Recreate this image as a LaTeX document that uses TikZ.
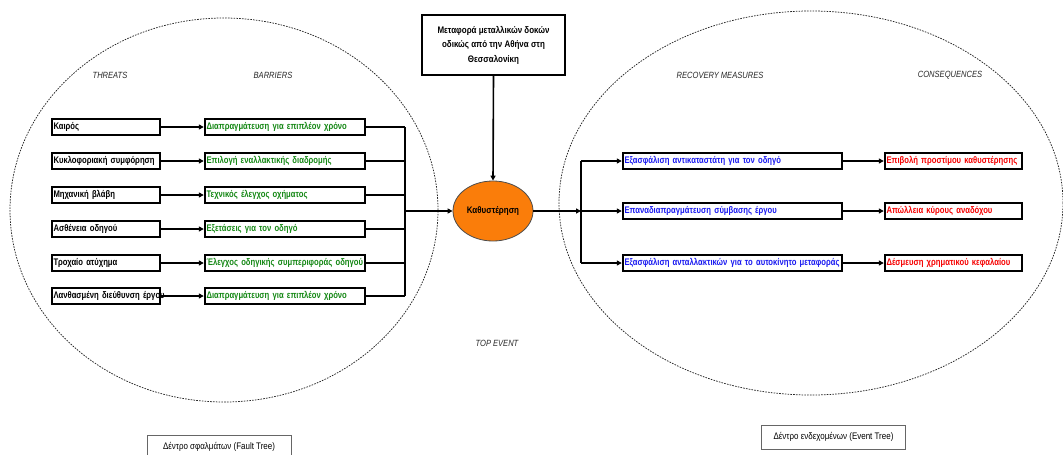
\documentclass[tikz,border=0pt]{standalone}
\usepackage{fontspec}
\setmainfont{Liberation Sans}[FakeStretch=0.84]
\newfontfamily\boxfont{Liberation Sans}[FakeStretch=0.80, WordSpace=0.85]
\usetikzlibrary{arrows.meta,shapes.geometric}
\definecolor{barriergreen}{RGB}{20,135,20}
\definecolor{recoveryblue}{RGB}{25,25,240}
\definecolor{consred}{RGB}{245,0,0}
\definecolor{eventorange}{RGB}{250,125,10}

\begin{document}
\begin{tikzpicture}[x=1pt,y=-1pt,
  itembox/.style={draw, line width=2.4pt, minimum height=16pt, inner xsep=1.5pt, inner ysep=0pt,
    align=left, font=\boxfont\bfseries\fontsize{9.6}{10}\selectfont},
  threatbox/.style={itembox, text width=105pt},
  barrierbox/.style={itembox, text width=157pt, text=barriergreen},
  recoverybox/.style={itembox, text width=216pt, text=recoveryblue},
  consbox/.style={itembox, text width=134pt, text=consred},
  link/.style={line width=1.6pt},
  linkarrow/.style={line width=1.6pt, -{Triangle[length=5pt,width=5pt]}},
  region/.style={dash pattern=on 1.6pt off 1.2pt, line width=0.75pt, black!85},
  heading/.style={font=\itshape\fontsize{9}{10}\selectfont, text=black!85},
  treelabel/.style={draw=black!60, line width=0.6pt, minimum width=144pt, minimum height=24pt,
    inner sep=0pt, font=\fontsize{9.5}{11}\selectfont}
]
\useasboundingbox (0,0) rectangle (1063,455);

% fault tree and event tree regions
\draw[region] (224,210) ellipse [x radius=214pt, y radius=192pt];
\draw[region] (811,203) ellipse [x radius=252pt, y radius=192pt];

% column headings
\node[heading] (hThreats) at (110,75) {THREATS};
\node[heading] (hBarriers) at (273,75) {BARRIERS};
\node[heading] (hRecovery) at (720,75) {RECOVERY MEASURES};
\node[heading] (hCons) at (950,75) {CONSEQUENCES};
\node[heading] (hTop) at (497,343) {TOP EVENT};

% hazard and top event
\node[draw, line width=1.8pt, minimum width=143pt, minimum height=60pt, align=center,
  font=\bfseries\fontsize{9.5}{14.5}\selectfont] (hazard) at (493.5,45)
  {Μεταφορά μεταλλικών δοκών\\οδικώς από την Αθήνα στη\\Θεσσαλονίκη};
\node[ellipse, draw=black!70, line width=0.8pt, fill=eventorange, minimum width=80pt,
  minimum height=60pt, inner sep=0pt, font=\bfseries\fontsize{9.5}{11}\selectfont] (top) at (493,211) {Καθυστέρηση};

% threats
\node[threatbox] (t1) at (106,127) {Καιρός};
\node[threatbox] (t2) at (106,161) {Κυκλοφοριακή συμφόρηση};
\node[threatbox] (t3) at (106,195) {Μηχανική βλάβη};
\node[threatbox] (t4) at (106,229) {Ασθένεια οδηγού};
\node[threatbox] (t5) at (106,263) {Τροχαίο ατύχημα};
\node[threatbox] (t6) at (106,296) {\mbox{Λανθασμένη διεύθυνση έργου}};

% barriers
\node[barrierbox] (b1) at (285,127) {\mbox{Διαπραγμάτευση για επιπλέον χρόνο}};
\node[barrierbox] (b2) at (285,161) {\mbox{Επιλογή εναλλακτικής διαδρομής}};
\node[barrierbox] (b3) at (285,195) {\mbox{Τεχνικός έλεγχος οχήματος}};
\node[barrierbox] (b4) at (285,229) {\mbox{Εξετάσεις για τον οδηγό}};
\node[barrierbox] (b5) at (285,263) {\mbox{Έλεγχος οδηγικής συμπεριφοράς οδηγού}};
\node[barrierbox] (b6) at (285,296) {\mbox{Διαπραγμάτευση για επιπλέον χρόνο}};

% recovery measures
\node[recoverybox] (r1) at (732.5,161) {\mbox{Εξασφάλιση αντικαταστάτη για τον οδηγό}};
\node[recoverybox] (r2) at (732.5,211) {\mbox{Επαναδιαπραγμάτευση σύμβασης έργου}};
\node[recoverybox] (r3) at (732.5,263) {\mbox{Εξασφάλιση ανταλλακτικών για το αυτοκίνητο μεταφοράς}};

% consequences
\node[consbox] (c1) at (953.5,161) {\mbox{Επιβολή προστίμου καθυστέρησης}};
\node[consbox] (c2) at (953.5,211) {\mbox{Απώλλεια κύρους αναδόχου}};
\node[consbox] (c3) at (953.5,263) {\mbox{Δέσμευση χρηματικού κεφαλαίου}};

% threats -> barriers
\foreach \i in {1,...,6} {
  \draw[linkarrow] (t\i.east) -- (b\i.west);
}

% barriers merge into the top event
\coordinate (busL) at (405,211);
\foreach \i in {1,...,6} {
  \draw[link] (b\i.east) -- (b\i.east -| busL);
}
\draw[link] (b1.east -| busL) -- (b6.east -| busL);
\draw[linkarrow] (busL) -- (top.west);

% hazard -> top event
\draw[linkarrow] (hazard.south) -- (top.north);

% top event fans out to recovery measures
\coordinate (busR) at (581,211);
\draw[linkarrow] (top.east) -- (busR);
\draw[link] (r1.west -| busR) -- (r3.west -| busR);
\foreach \i in {1,2,3} {
  \draw[linkarrow] (r\i.west -| busR) -- (r\i.west);
  \draw[linkarrow] (r\i.east) -- (c\i.west);
}

% tree captions
\node[treelabel] (faultTree) at (219,447) {Δέντρο σφαλμάτων (Fault Tree)};
\node[treelabel] (eventTree) at (833.5,437) {Δέντρο ενδεχομένων (Event Tree)};
\end{tikzpicture}
\end{document}
